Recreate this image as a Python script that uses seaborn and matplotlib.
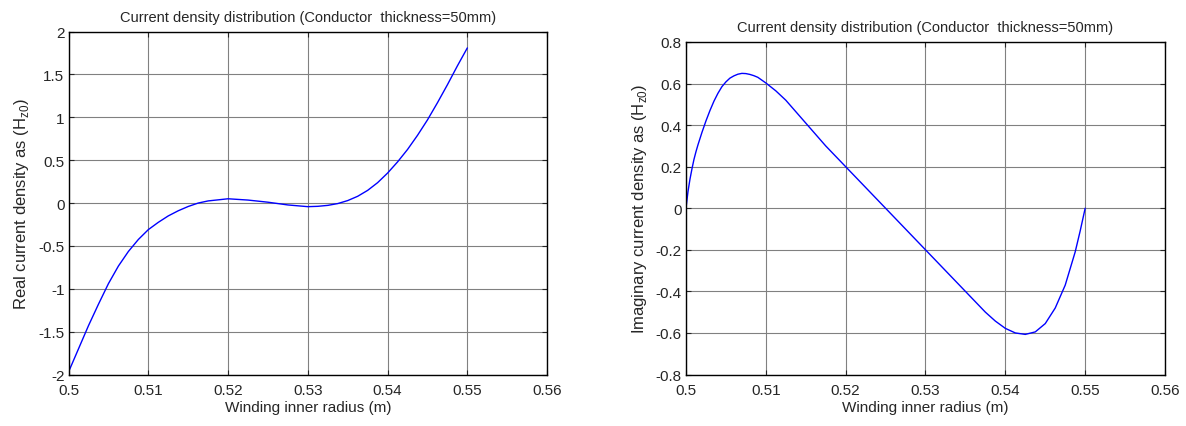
import matplotlib
matplotlib.use("Agg")
import matplotlib.pyplot as plt
import seaborn as sns
import pandas as pd

# values
radius_real = [0.5000, 0.50125, 0.5025, 0.50375, 0.5050, 0.50625, 0.5075, 0.50875,
               0.5100, 0.51125, 0.5125, 0.51375, 0.5150, 0.51625, 0.5175, 0.5200,
               0.5225, 0.5250, 0.5275, 0.5300, 0.53125, 0.5325, 0.53375, 0.5350,
               0.53625, 0.5375, 0.53875, 0.5400, 0.54125, 0.5425, 0.54375, 0.5450,
               0.54625, 0.5475, 0.54875, 0.5500]
real_density = [-1.97, -1.70, -1.43, -1.18, -0.94, -0.735, -0.565, -0.425,
                -0.31, -0.225, -0.15, -0.09, -0.04, 0.0, 0.025, 0.05,
                0.035, 0.01, -0.022, -0.042, -0.038, -0.027, -0.006, 0.029,
                0.079, 0.148, 0.238, 0.35, 0.48, 0.625, 0.79, 0.97,
                1.17, 1.38, 1.60, 1.81]

radius_imag = [0.5000, 0.50025, 0.5005, 0.50075, 0.5010, 0.50125, 0.5015, 0.5020,
               0.5025, 0.5030, 0.5035, 0.5040, 0.5045, 0.5050, 0.5055, 0.5060,
               0.5065, 0.5070, 0.5075, 0.5080, 0.5085, 0.5090, 0.5100, 0.51125,
               0.5125, 0.51375, 0.5150, 0.51625, 0.5175, 0.5200, 0.5225, 0.5250,
               0.5275, 0.5300, 0.5325, 0.5350, 0.5375, 0.53875, 0.5400, 0.54125,
               0.5425, 0.54375, 0.5450, 0.54625, 0.5475, 0.54875, 0.54937, 0.5500]
imag_density = [0.00, 0.08, 0.14, 0.19, 0.235, 0.272, 0.305, 0.365,
                0.42, 0.47, 0.515, 0.553, 0.585, 0.608, 0.626, 0.637,
                0.645, 0.649, 0.648, 0.644, 0.638, 0.63, 0.603, 0.565,
                0.52, 0.465, 0.41, 0.355, 0.30, 0.20, 0.10, 0.00,
                -0.10, -0.20, -0.30, -0.40, -0.50, -0.543, -0.578, -0.60,
                -0.607, -0.595, -0.555, -0.48, -0.37, -0.21, -0.11, 0.00]

x_ticks = [0.5, 0.51, 0.52, 0.53, 0.54, 0.55, 0.56]
x_ticklabels = ["0.5", "0.51", "0.52", "0.53", "0.54", "0.55", "0.56"]
real_yticks = [-2, -1.5, -1, -0.5, 0, 0.5, 1, 1.5, 2]
real_yticklabels = ["-2", "-1.5", "-1", "-0.5", "0", "0.5", "1", "1.5", "2"]
imag_yticks = [-0.8, -0.6, -0.4, -0.2, 0, 0.2, 0.4, 0.6, 0.8]
imag_yticklabels = ["-0.8", "-0.6", "-0.4", "-0.2", "0", "0.2", "0.4", "0.6", "0.8"]

title = "Current density distribution (Conductor  thickness=50mm)"
xlabel = "Winding inner radius (m)"

df_real = pd.DataFrame({"r": radius_real, "J": real_density})
df_imag = pd.DataFrame({"r": radius_imag, "J": imag_density})

sns.set_style("ticks")
plt.rcParams["font.family"] = ["Liberation Sans", "DejaVu Sans"]
plt.rcParams["xtick.direction"] = "in"
plt.rcParams["ytick.direction"] = "in"

fig = plt.figure(figsize=(11.86, 4.27), dpi=100)
ax1 = fig.add_axes([0.0578, 0.1206, 0.4035, 0.803])
ax2 = fig.add_axes([0.5784, 0.1206, 0.4039, 0.7787])

def style_axes(ax, yticks, yticklabels, ylabel):
    ax.set_xlim(0.5, 0.56)
    ax.set_ylim(yticks[0], yticks[-1])
    ax.set_xticks(x_ticks)
    ax.set_xticklabels(x_ticklabels, fontsize=11)
    ax.set_yticks(yticks)
    ax.set_yticklabels(yticklabels, fontsize=11)
    ax.tick_params(top=True, right=True, length=3.5, width=0.8)
    ax.tick_params(axis="x", pad=6)
    ax.tick_params(axis="y", pad=3)
    ax.grid(True, color="0.5", linewidth=0.8)
    ax.set_axisbelow(True)
    for s in ax.spines.values():
        s.set_color("black")
        s.set_linewidth(1.0)
    ax.set_title(title, fontsize=10.5, pad=8)
    ax.set_xlabel(xlabel, fontsize=11, labelpad=2)
    ax.set_ylabel(ylabel, fontsize=12, labelpad=5)

sns.lineplot(data=df_real, x="r", y="J", ax=ax1, color="blue", linewidth=1.0)
style_axes(ax1, real_yticks, real_yticklabels,
           r"Real current density as (H$_{\mathregular{z0}}$)")

sns.lineplot(data=df_imag, x="r", y="J", ax=ax2, color="blue", linewidth=1.0)
style_axes(ax2, imag_yticks, imag_yticklabels,
           r"Imaginary current density as (H$_{\mathregular{z0}}$)")

fig.savefig("out.png", dpi=100, facecolor="white")
